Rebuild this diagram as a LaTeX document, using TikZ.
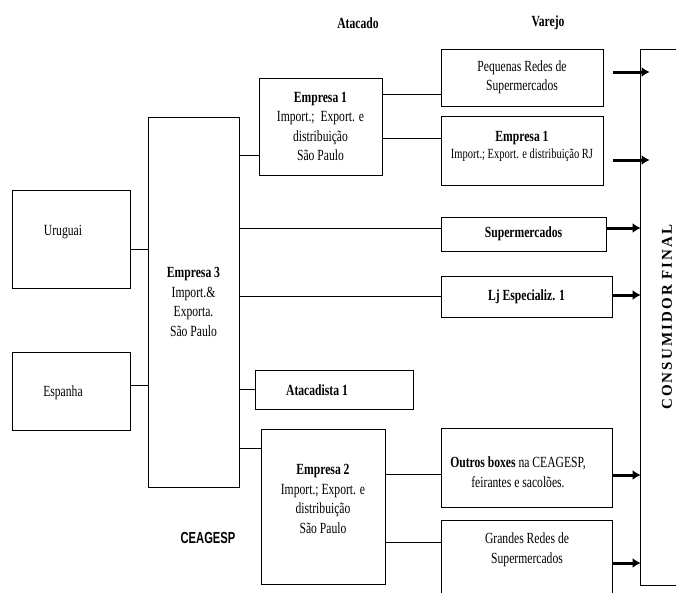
\documentclass[tikz,border=0pt]{standalone}
\usepackage{fontspec}
\setmainfont{Liberation Serif}[FakeStretch=0.75]
\newfontfamily\ceagespfont{Liberation Sans}[FakeStretch=0.7]
\newfontfamily\consfont{Liberation Serif}[LetterSpace=14]
\usepackage{tikz}
\usetikzlibrary{arrows.meta}
\tikzset{
  caixa/.style={draw,line width=0.8pt,inner sep=0pt,align=center}, % Kasten
  texto/.style={inner sep=0pt,align=center},
  linha/.style={line width=0.8pt},
  seta/.style={line width=3pt,->} % Pfeil zum Konsumenten
}
\begin{document}
\fontsize{15.5}{19.5}\selectfont
\begin{tikzpicture}[
x=1pt, y=-1pt,
>={Latex[length=8pt,width=10pt]} % Pfeilspitzen
]
\useasboundingbox (0,0) rectangle (676,592);

%Titel
\node[texto] (atacado) at (358,23) {\textbf{Atacado}};
\node[texto] (varejo) at (548,23) {\textbf{Varejo}};
\node[texto] (ceagesp) at (208,538) {\ceagespfont\bfseries\fontsize{16}{19}\selectfont CEAGESP};

%Origem
\node[caixa, minimum width=118, minimum height=98] (uru) at (71,239) {};
\node[texto] (uru-t) at ([shift={(-8,-7)}]uru.center) {Uruguai};
\node[caixa, minimum width=118, minimum height=78] (esp) at (71,391) {};
\node[texto] (esp-t) at ([shift={(-8,2)}]esp.center) {Espanha};

%Importador
\node[caixa, minimum width=91, minimum height=370] (e3) at (193.5,302)
  {\textbf{Empresa 3}\\Import.\&\\Exporta.\\São Paulo};

%Atacado
\node[caixa, minimum width=123, minimum height=97] (e1) at (320.5,126.5)
  {\textbf{Empresa 1}\\Import.;~ Export. e\\distribuição\\São Paulo};
\node[caixa, minimum width=158, minimum height=39] (ata) at (334,389.5) {};
\node[texto] (ata-t) at ([shift={(-17,0.5)}]ata.center) {\textbf{Atacadista 1}};
\node[caixa, minimum width=124, minimum height=155] (e2) at (323,506.5) {};
\node[texto] (e2-t) at ([shift={(0,-7.5)}]e2.center)
  {\textbf{Empresa 2}\\Import.; Export. e\\distribuição\\São Paulo};

%Varejo
\node[caixa, minimum width=162, minimum height=57] (peq) at (522,77.5)
  {Pequenas Redes de\\Supermercados};
\node[caixa, minimum width=162, minimum height=69] (rj) at (522,150.5) {};
\node[texto] (rj-t) at ([shift={(0,-4)}]rj.center)
  {\textbf{Empresa 1}\\[-3pt]{\fontsize{14}{16}\selectfont Import.; Export. e distribuição RJ}};
\node[caixa, minimum width=165, minimum height=34] (sup) at (523.5,234) {\textbf{Supermercados}};
\node[caixa, minimum width=171, minimum height=41] (lj) at (526.5,296.5) {\textbf{Lj Especializ. 1}};
\node[caixa, minimum width=171, minimum height=79] (out) at (526.5,467.5) {};
\node[texto] (out-t) at ([shift={(-8.5,4.5)}]out.center)
  {\textbf{Outros boxes} na CEAGESP,\\feirantes e sacolões.};
\node[caixa, minimum width=171, minimum height=80] (gr) at (526.5,560) {};
\node[texto] (gr-t) at ([shift={(0.5,-10)}]gr.center) {Grandes Redes de\\Supermercados};

%Consumidor
\node[caixa, minimum width=54, minimum height=536] (cons) at (667,317)
  {\rotatebox{90}{\consfont\bfseries\fontsize{15}{17}\selectfont CONSUMIDOR FINAL}};

%Ligacoes
\draw[linha] ([shift={(0,10)}]uru.east) -- ([shift={(0,10)}]uru.east -| e3.west);
\draw[linha] ([shift={(0,-6)}]esp.east) -- ([shift={(0,-6)}]esp.east -| e3.west);
\draw[linha] ([shift={(0,28.5)}]e1.west) -- ([shift={(0,28.5)}]e1.west -| e3.east);
\draw[linha] ([shift={(0,-6)}]sup.west) -- ([shift={(0,-6)}]sup.west -| e3.east);
\draw[linha] (lj.west) -- (lj.west -| e3.east);
\draw[linha] (ata.west) -- (ata.west -| e3.east);
\draw[linha] ([shift={(0,-58.5)}]e2.west) -- ([shift={(0,-58.5)}]e2.west -| e3.east);
\draw[linha] ([shift={(0,16.5)}]peq.west) -- ([shift={(0,16.5)}]peq.west -| e1.east);
\draw[linha] ([shift={(0,-12.5)}]rj.west) -- ([shift={(0,-12.5)}]rj.west -| e1.east);
\draw[linha] ([shift={(0,6.5)}]out.west) -- ([shift={(0,6.5)}]out.west -| e2.east);
\draw[linha] ([shift={(0,-18)}]gr.west) -- ([shift={(0,-18)}]gr.west -| e2.east);

%Setas
\draw[seta] ([shift={(10,-5.5)}]peq.east) -- ([shift={(10,-5.5)}]peq.east -| cons.west);
\draw[seta] ([shift={(10,9.5)}]rj.east) -- ([shift={(10,9.5)}]rj.east -| cons.west);
\draw[seta] ([shift={(1,-6)}]sup.east) -- ([shift={(1,-6)}]sup.east -| cons.west);
\draw[seta] ([shift={(1,-1.5)}]lj.east) -- ([shift={(1,-1.5)}]lj.east -| cons.west);
\draw[seta] ([shift={(1,7.5)}]out.east) -- ([shift={(1,7.5)}]out.east -| cons.west);
\draw[seta] ([shift={(1,3)}]gr.east) -- ([shift={(1,3)}]gr.east -| cons.west);
\end{tikzpicture}
\end{document}
